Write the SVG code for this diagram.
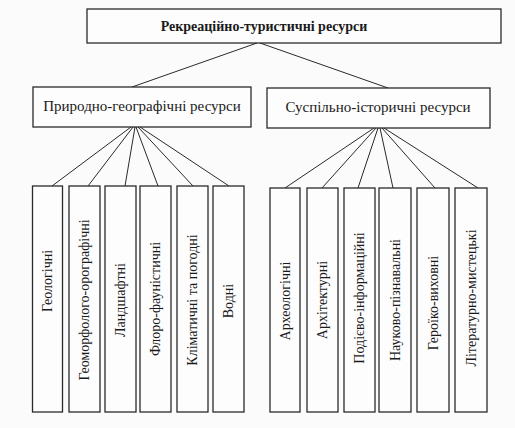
<svg xmlns="http://www.w3.org/2000/svg" width="515" height="428" viewBox="0 0 515 428">
<style>
.box{fill:#fdfdfd;stroke:#2a2a2a;stroke-width:1.3}
.ln{stroke:#2a2a2a;stroke-width:1;fill:none}
text{font-family:"Liberation Serif","DejaVu Serif",serif;fill:#1a1a1a}
.t{font-size:14px;font-weight:bold;text-anchor:middle}
.m{font-size:15px;text-anchor:middle}
.v{font-size:14px;text-anchor:middle}
</style>
<rect width="515" height="428" fill="#fbfbfb"/>
<g id="connectors">
<line class="ln" x1="257" y1="43" x2="132" y2="87"/>
<line class="ln" x1="260" y1="43" x2="388" y2="88"/>
<line class="ln" x1="131" y1="127" x2="52" y2="186"/>
<line class="ln" x1="133" y1="127" x2="88" y2="186"/>
<line class="ln" x1="135" y1="127" x2="125" y2="186"/>
<line class="ln" x1="136" y1="127" x2="158" y2="186"/>
<line class="ln" x1="138" y1="127" x2="193" y2="186"/>
<line class="ln" x1="140" y1="127" x2="229" y2="186"/>
<line class="ln" x1="374" y1="128" x2="285" y2="188"/>
<line class="ln" x1="376" y1="128" x2="322" y2="188"/>
<line class="ln" x1="378" y1="128" x2="358" y2="188"/>
<line class="ln" x1="380" y1="128" x2="393" y2="188"/>
<line class="ln" x1="382" y1="128" x2="435" y2="188"/>
<line class="ln" x1="384" y1="128" x2="478" y2="188"/>
</g>
<g id="root"><rect class="box" x="87" y="9" width="414" height="34"/><text class="t" x="264" y="31">Рекреаційно-туристичні ресурси</text></g>
<g id="natural"><rect class="box" x="33" y="87" width="218" height="40"/><text class="m" x="142" y="111">Природно-географічні ресурси</text></g>
<g id="social"><rect class="box" x="267" y="88" width="223" height="40"/><text class="m" x="378" y="112">Суспільно-історичні ресурси</text></g>
<g id="n1"><rect class="box" x="32.5" y="186" width="30" height="226"/><text class="v" transform="translate(52,281) rotate(-90)">Геологічні</text></g>
<g id="n2"><rect class="box" x="69" y="186" width="31" height="226"/><text class="v" transform="translate(89,300) rotate(-90)">Геоморфолого-орографічні</text></g>
<g id="n3"><rect class="box" x="105" y="186" width="31" height="226"/><text class="v" transform="translate(125,300) rotate(-90)">Ландшафтні</text></g>
<g id="n4"><rect class="box" x="140" y="186" width="31" height="226"/><text class="v" transform="translate(160,299) rotate(-90)">Флоро-фауністичні</text></g>
<g id="n5"><rect class="box" x="177" y="186" width="31" height="226"/><text class="v" transform="translate(197,300) rotate(-90)">Кліматичні та погодні</text></g>
<g id="n6"><rect class="box" x="213" y="186" width="31" height="226"/><text class="v" transform="translate(233,301) rotate(-90)">Водні</text></g>
<g id="s1"><rect class="box" x="270" y="188" width="30" height="224"/><text class="v" transform="translate(290,301) rotate(-90)">Археологічні</text></g>
<g id="s2"><rect class="box" x="307" y="188" width="31" height="224"/><text class="v" transform="translate(327,300) rotate(-90)">Архітектурні</text></g>
<g id="s3"><rect class="box" x="344" y="188" width="31" height="224"/><text class="v" transform="translate(364,298) rotate(-90)">Подієво-інформаційні</text></g>
<g id="s4"><rect class="box" x="379" y="188" width="32" height="224"/><text class="v" transform="translate(400,300) rotate(-90)">Науково-пізнавальні</text></g>
<g id="s5"><rect class="box" x="417" y="188" width="32" height="224"/><text class="v" transform="translate(438,303) rotate(-90)">Героїко-виховні</text></g>
<g id="s6"><rect class="box" x="455" y="188" width="32" height="224"/><text class="v" transform="translate(476,298) rotate(-90)">Літературно-мистецькі</text></g>
</svg>
